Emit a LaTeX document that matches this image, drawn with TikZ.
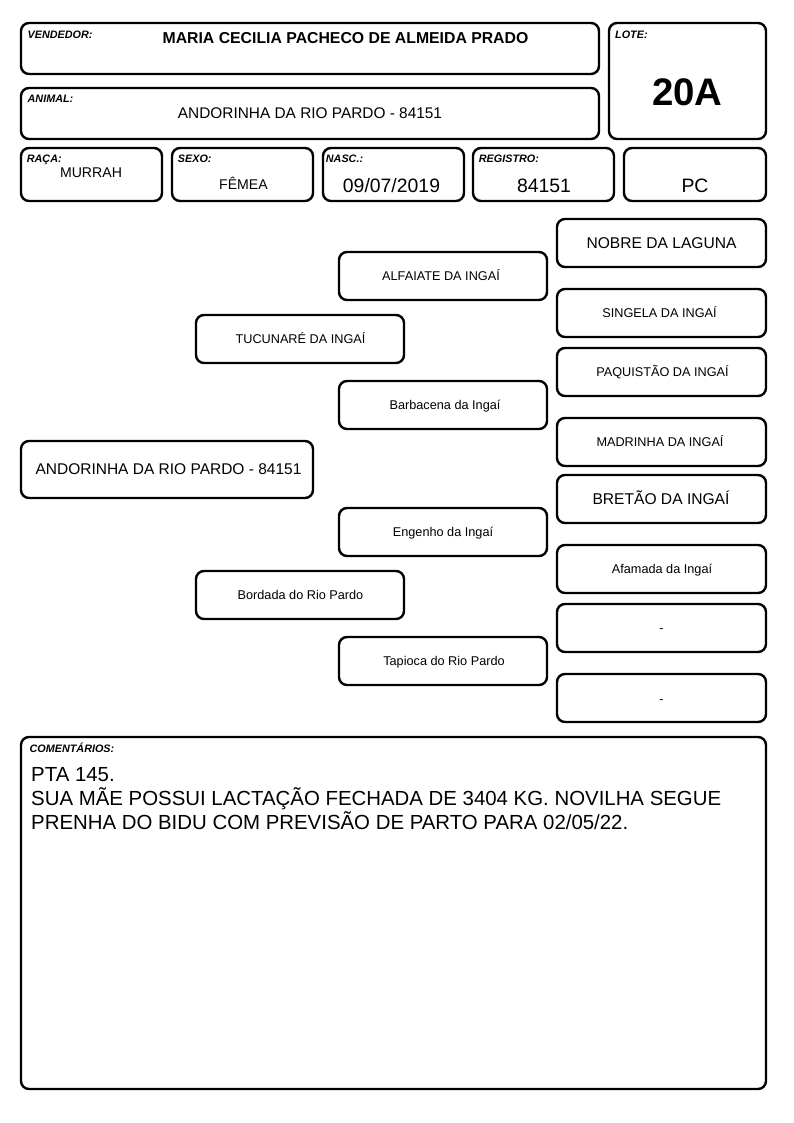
\documentclass[tikz,border=0pt]{standalone}
\usepackage{fontspec}
\setmainfont{Liberation Sans}
\usetikzlibrary{calc}
\def\fs#1{\fontsize{#1}{#1}\selectfont}
\def\cellbox(#1)(#2){\draw[cell] (#1) rectangle (#2);}
\tikzset{
  cell/.style={line width=2.4pt, rounded corners=8pt},
  lbl/.style={anchor=base west, inner sep=0pt, font=\fs{10.8}\bfseries\itshape},
  val/.style={anchor=base, inner sep=0pt},
  small/.style={val, font=\fs{12.7}},
  big/.style={val, font=\fs{15.6}},
  note/.style={anchor=base west, inner sep=0pt, font=\fs{20.4}}
}

\begin{document}
\begin{tikzpicture}[x=1pt, y=-1pt]
		%%%%% PAGE %%%%%
		\useasboundingbox[fill=white] (0, 0) rectangle (794, 1123);
		
		%%%%% HEADER %%%%%
		\cellbox(21, 23)(599, 74)
		\node[lbl] (vendlbl) at (27.5, 39) {VENDEDOR:};
		\node[val, font=\fs{15.8}\bfseries] (vend) at (345.5, 43.3) {MARIA CECILIA PACHECO DE ALMEIDA PRADO};
		
		\cellbox(21, 88)(599, 139)
		\node[lbl] (animlbl) at (27.5, 102.7) {ANIMAL:};
		\node[val, font=\fs{15.4}] (anim) at (310, 119) {ANDORINHA DA RIO PARDO - 84151};
		
		\cellbox(609, 23)(766, 139)
		\node[lbl] (lotelbl) at (615, 39) {LOTE:};
		\node[val, font=\fs{38.4}\bfseries] (lote) at (687.5, 105.3) {20A};
		
		\cellbox(21, 148)(162, 201)
		\node[lbl] (racalbl) at (26.7, 162.7) {RAÇA:};
		\node[val, font=\fs{14.1}] (raca) at (91, 178) {MURRAH};
		
		\cellbox(172, 148)(313, 201)
		\node[lbl] (sexolbl) at (177.7, 162.7) {SEXO:};
		\node[val, font=\fs{14.1}] (sexo) at (243.5, 190) {FÊMEA};
		
		\cellbox(323, 148)(464, 201)
		\node[lbl] (nasclbl) at (325.7, 162.7) {NASC.:};
		\node[val, font=\fs{19.4}] (nasc) at (391.5, 193) {09/07/2019};
		
		\cellbox(473, 148)(614, 201)
		\node[lbl] (reglbl) at (478.7, 162.7) {REGISTRO:};
		\node[val, font=\fs{19.4}] (reg) at (544, 193) {84151};
		
		\cellbox(624, 148)(766, 201)
		\node[val, font=\fs{19.4}] (cat) at (695, 193) {PC};
		
		%%%%% PEDIGREE %%%%%
		\cellbox(21, 441)(313, 498)
		\node[big, font=\fs{15.5}] (root) at (168.5, 474.6) {ANDORINHA DA RIO PARDO - 84151};
		
		\cellbox(196, 315)(404, 363)
		\node[small] (sire) at (300.5, 343.6) {TUCUNARÉ DA INGAÍ};
		\cellbox(196, 571)(404, 619)
		\node[small] (dam) at (300.5, 599.6) {Bordada do Rio Pardo};
		
		\cellbox(339, 252)(547, 300)
		\node[small] (ss) at (441, 280.6) {ALFAIATE DA INGAÍ};
		\cellbox(339, 381)(547, 429)
		\node[small] (sd) at (445, 409.6) {Barbacena da Ingaí};
		\cellbox(339, 508)(547, 556)
		\node[small] (ds) at (443, 536.6) {Engenho da Ingaí};
		\cellbox(339, 637)(547, 685)
		\node[small] (dd) at (444, 665.6) {Tapioca do Rio Pardo};
		
		\cellbox(557, 219)(766, 267)
		\node[big] (sss) at (661.5, 248) {NOBRE DA LAGUNA};
		\cellbox(557, 289)(766, 337)
		\node[small] (ssd) at (659.5, 317.6) {SINGELA DA INGAÍ};
		\cellbox(557, 348)(766, 396)
		\node[small] (sds) at (662.5, 376) {PAQUISTÃO DA INGAÍ};
		\cellbox(557, 418)(766, 466)
		\node[small] (sdd) at (660, 446) {MADRINHA DA INGAÍ};
		\cellbox(557, 475)(766, 523)
		\node[big] (dss) at (661, 504.6) {BRETÃO DA INGAÍ};
		\cellbox(557, 545)(766, 593)
		\node[small] (dsd) at (662, 573) {Afamada da Ingaí};
		\cellbox(557, 604)(766, 652)
		\node[small] (dds) at (661.5, 632.6) {-};
		\cellbox(557, 674)(766, 722)
		\node[small] (ddd) at (661.5, 703) {-};
		
		%%%%% COMMENTS %%%%%
		\cellbox(21, 737)(766, 1089)
		\node[lbl] (obslbl) at (29.5, 752.5) {COMENTÁRIOS:};
		\node[note] (obs1) at (31, 781) {PTA 145.};
		\node[note] (obs2) at (31, 805) {SUA MÃE POSSUI LACTAÇÃO FECHADA DE 3404 KG. NOVILHA SEGUE};
		\node[note] (obs3) at (31, 829) {PRENHA DO BIDU COM PREVISÃO DE PARTO PARA 02/05/22.};
		
		%%%%% END %%%%%
\end{tikzpicture}
\end{document}
